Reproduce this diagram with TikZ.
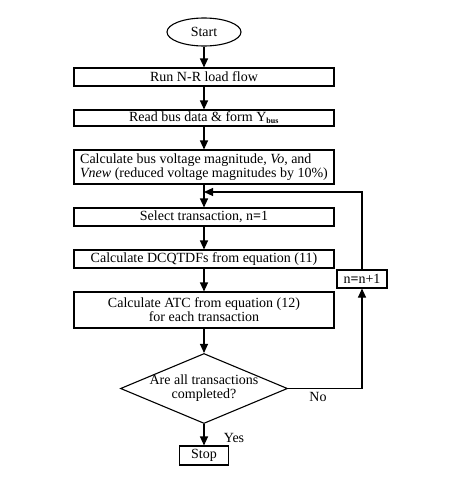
\documentclass[tikz,border=0pt]{standalone}
\usepackage{fontspec}
\setmainfont{Liberation Serif}
\usetikzlibrary{shapes.geometric,arrows.meta}
\begin{document}
\begin{tikzpicture}[x=1pt,y=-1pt,
  every node/.style={font=\fontsize{14}{14}\selectfont},
  proc/.style={draw,line width=1.1pt,minimum width=260pt,inner sep=0pt,align=center},
  arr/.style={line width=1.1pt,-{Triangle[length=9pt,width=8pt]}},
  ln/.style={line width=1.1pt}]
\useasboundingbox (0,0) rectangle (456,482);
\node[draw,ellipse,line width=1.1pt,minimum width=74pt,minimum height=28pt,inner sep=0pt] (start) at (204,32) {Start};
\node[proc,minimum height=18pt] (nr) at (204,77) {Run N-R load flow};
\node[proc,minimum height=16pt] (rb) at (204,118) {Read bus data \& form Y\textsubscript{\fontsize{8}{8}\selectfont\bfseries bus}};
\node[proc,minimum height=34pt,align=left] (cv) at (204,167) {Calculate bus voltage magnitude, \textit{Vo}, and\\ \textit{Vnew} (reduced voltage magnitudes by 10\%)};
\node[proc,minimum height=18pt] (st) at (204,217) {Select transaction, n\textbf{=}1};
\node[proc,minimum height=18pt] (dc) at (204,259) {Calculate DCQTDFs from equation (11)};
\node[proc,minimum height=36pt] (atc) at (204,310) {Calculate ATC from equation (12)\\ for each transaction};
\node[draw,diamond,line width=1.1pt,minimum width=167pt,minimum height=70pt,inner sep=-5pt,aspect=2.4,align=center] (dm) at (204,388.5) {Are all transactions\\ completed?};
\node[draw,line width=1.1pt,minimum width=50pt,minimum height=18pt,inner sep=0pt] (inc) at (362,279) {n\textbf{=}n+1};
\node[draw,line width=1.1pt,minimum width=49pt,minimum height=19pt,inner sep=0pt] (stop) at (204,455.5) {Stop};
\coordinate (j) at (204,192);
\coordinate (c1) at (362,388.5);
\coordinate (c2) at (362,192);
\draw[arr] (start) -- (nr);
\draw[arr] (nr) -- (rb);
\draw[arr] (rb) -- (cv);
\draw[arr] (cv) -- (st);
\draw[arr] (st) -- (dc);
\draw[arr] (dc) -- (atc);
\draw[arr] (atc) -- (dm);
\draw[arr] (dm) -- (stop);
\draw[arr] (dm.east) -- (c1) -- (inc.south);
\draw[arr] (inc.north) -- (c2) -- (j);
\node at (318,397) {No};
\node at (234,438) {Yes};
\end{tikzpicture}
\end{document}
